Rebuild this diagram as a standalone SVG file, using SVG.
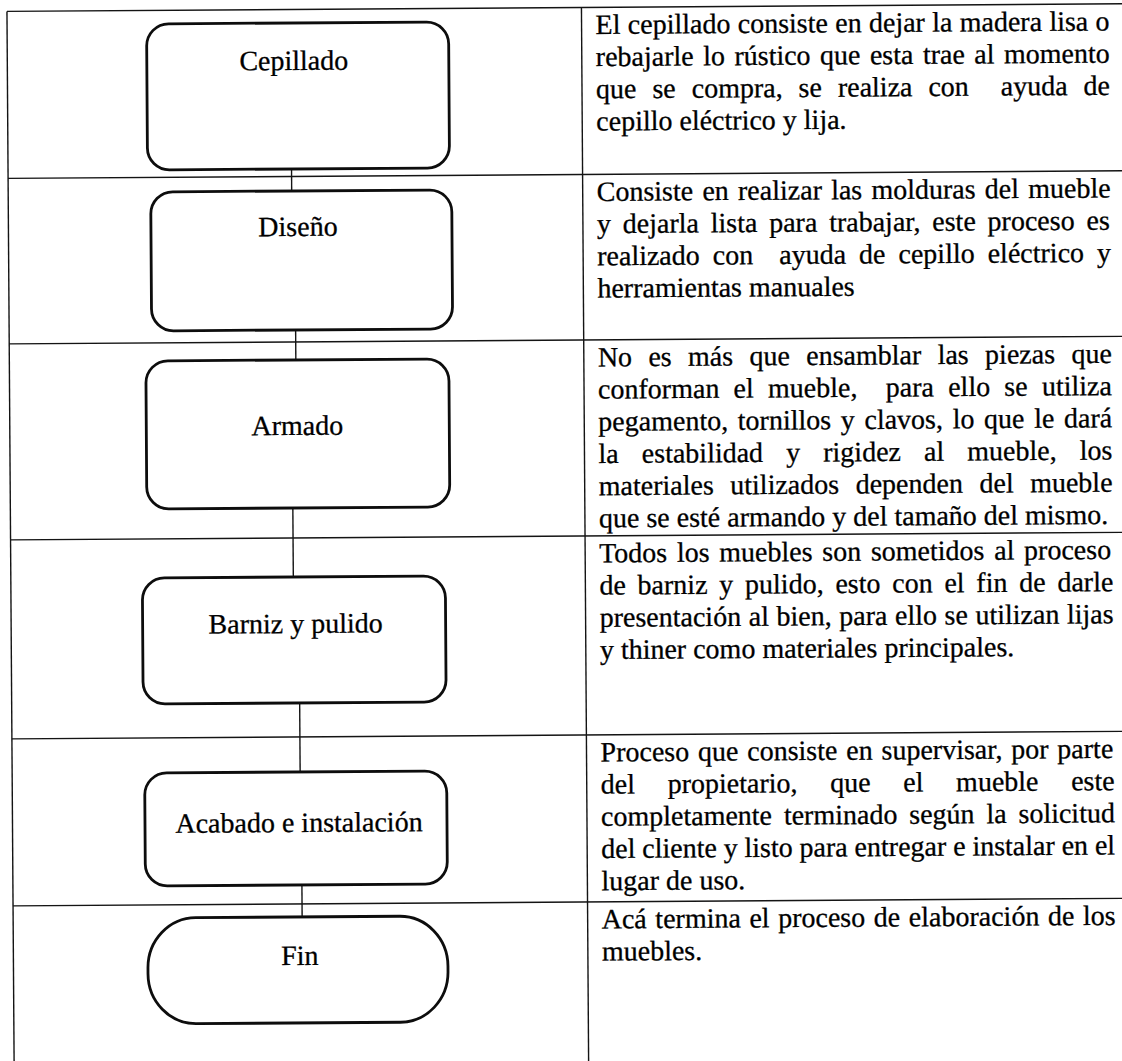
<svg xmlns="http://www.w3.org/2000/svg" width="1122" height="1061" viewBox="0 0 1122 1061">
<style>
.grid{stroke:#141414;stroke-width:1.4;fill:none}
.box{fill:#fff;stroke:#0d0d0d;stroke-width:2.8}
.conn{stroke:#141414;stroke-width:1.4;fill:none}
.lbl{font-family:"Liberation Serif","Times New Roman",serif;font-size:28px;fill:#000;stroke:#000;stroke-width:0.3;text-anchor:middle}
.desc{font-family:"Liberation Serif","Times New Roman",serif;font-size:28px;fill:#000;stroke:#000;stroke-width:0.3;white-space:pre}
</style>
<rect width="1122" height="1061" fill="#fff"/>
<g transform="rotate(-0.39 583 530)">
  <g id="table" class="grid">
    <line x1="10.5" y1="7.5" x2="1140" y2="7.5"/>
    <line x1="10.5" y1="174.5" x2="1140" y2="174.5"/>
    <line x1="10.5" y1="340" x2="1140" y2="340"/>
    <line x1="10.5" y1="536" x2="1140" y2="536"/>
    <line x1="10.5" y1="735" x2="1140" y2="735"/>
    <line x1="10.5" y1="902" x2="1140" y2="902"/>
    <line x1="10.5" y1="7.5" x2="10.5" y2="1075"/>
    <line x1="585" y1="7.5" x2="585" y2="1075"/>
  </g>
  <g id="connectors" class="conn">
    <line x1="294" y1="167" x2="294" y2="189"/>
    <line x1="297" y1="328" x2="297" y2="358"/>
    <line x1="293" y1="506" x2="293" y2="575"/>
    <line x1="298.5" y1="701" x2="298.5" y2="770"/>
    <line x1="299.5" y1="883" x2="299.5" y2="915"/>
  </g>
  <g id="node-cepillado">
    <rect class="box" x="150" y="21" width="302" height="146" rx="22" ry="22"/>
    <text class="lbl" x="297" y="68">Cepillado</text>
  </g>
  <g id="node-diseno">
    <rect class="box" x="153" y="189" width="301" height="139" rx="22" ry="22"/>
    <text class="lbl" x="300" y="234">Diseño</text>
  </g>
  <g id="node-armado">
    <rect class="box" x="147" y="358" width="303" height="148" rx="22" ry="22"/>
    <text class="lbl" x="298" y="433">Armado</text>
  </g>
  <g id="node-barniz">
    <rect class="box" x="142" y="575" width="303" height="126" rx="22" ry="22"/>
    <text class="lbl" x="295" y="631">Barniz y pulido</text>
  </g>
  <g id="node-acabado">
    <rect class="box" x="143" y="770" width="302" height="113" rx="22" ry="22"/>
    <text class="lbl" x="297" y="830">Acabado e instalación</text>
  </g>
  <g id="node-fin">
    <rect class="box" x="145" y="915" width="300" height="106" rx="48" ry="50"/>
    <text class="lbl" x="297" y="963">Fin</text>
  </g>
  <g id="desc-cepillado">
    <text class="desc" x="599" y="34" word-spacing="0.3">El cepillado consiste en dejar la madera lisa o</text>
    <text class="desc" x="599" y="66.2" word-spacing="2.44">rebajarle lo rústico que esta trae al momento</text>
    <text class="desc" x="599" y="98.4" word-spacing="8.95">que se compra, se realiza con  ayuda de</text>
    <text class="desc" x="599" y="130.6">cepillo eléctrico y lija.</text>
  </g>
  <g id="desc-diseno">
    <text class="desc" x="599" y="201" word-spacing="2.2">Consiste en realizar las molduras del mueble</text>
    <text class="desc" x="599" y="233.2" word-spacing="4.79">y dejarla lista para trabajar, este proceso es</text>
    <text class="desc" x="599" y="265.4" word-spacing="6">realizado con  ayuda de cepillo eléctrico y</text>
    <text class="desc" x="599" y="297.6">herramientas manuales</text>
  </g>
  <g id="desc-armado">
    <text class="desc" x="599" y="366.5" word-spacing="9.33">No es más que ensamblar las piezas que</text>
    <text class="desc" x="599" y="398.7" word-spacing="7.2">conforman el mueble,  para ello se utiliza</text>
    <text class="desc" x="599" y="430.9" word-spacing="2.66">pegamento, tornillos y clavos, lo que le dará</text>
    <text class="desc" x="599" y="463.1" word-spacing="16.07">la estabilidad y rigidez al mueble, los</text>
    <text class="desc" x="599" y="495.3" word-spacing="9.5">materiales utilizados dependen del mueble</text>
    <text class="desc" x="599" y="527.5">que se esté armando y del tamaño del mismo.</text>
  </g>
  <g id="desc-barniz">
    <text class="desc" x="599" y="562.5" word-spacing="2.7">Todos los muebles son sometidos al proceso</text>
    <text class="desc" x="599" y="594.7" word-spacing="4.75">de barniz y pulido, esto con el fin de darle</text>
    <text class="desc" x="599" y="626.9" word-spacing="0.56">presentación al bien, para ello se utilizan lijas</text>
    <text class="desc" x="599" y="659.1">y thiner como materiales principales.</text>
  </g>
  <g id="desc-acabado">
    <text class="desc" x="599" y="761.5" word-spacing="1.8">Proceso que consiste en supervisar, por parte</text>
    <text class="desc" x="599" y="793.7" word-spacing="25.66">del propietario, que el mueble este</text>
    <text class="desc" x="599" y="825.9" word-spacing="4.85">completamente terminado según la solicitud</text>
    <text class="desc" x="599" y="858.1" word-spacing="-0.17">del cliente y listo para entregar e instalar en el</text>
    <text class="desc" x="599" y="890.3">lugar de uso.</text>
  </g>
  <g id="desc-fin">
    <text class="desc" x="599" y="928.5" word-spacing="1.56">Acá termina el proceso de elaboración de los</text>
    <text class="desc" x="599" y="960.7">muebles.</text>
  </g>
</g>
</svg>
